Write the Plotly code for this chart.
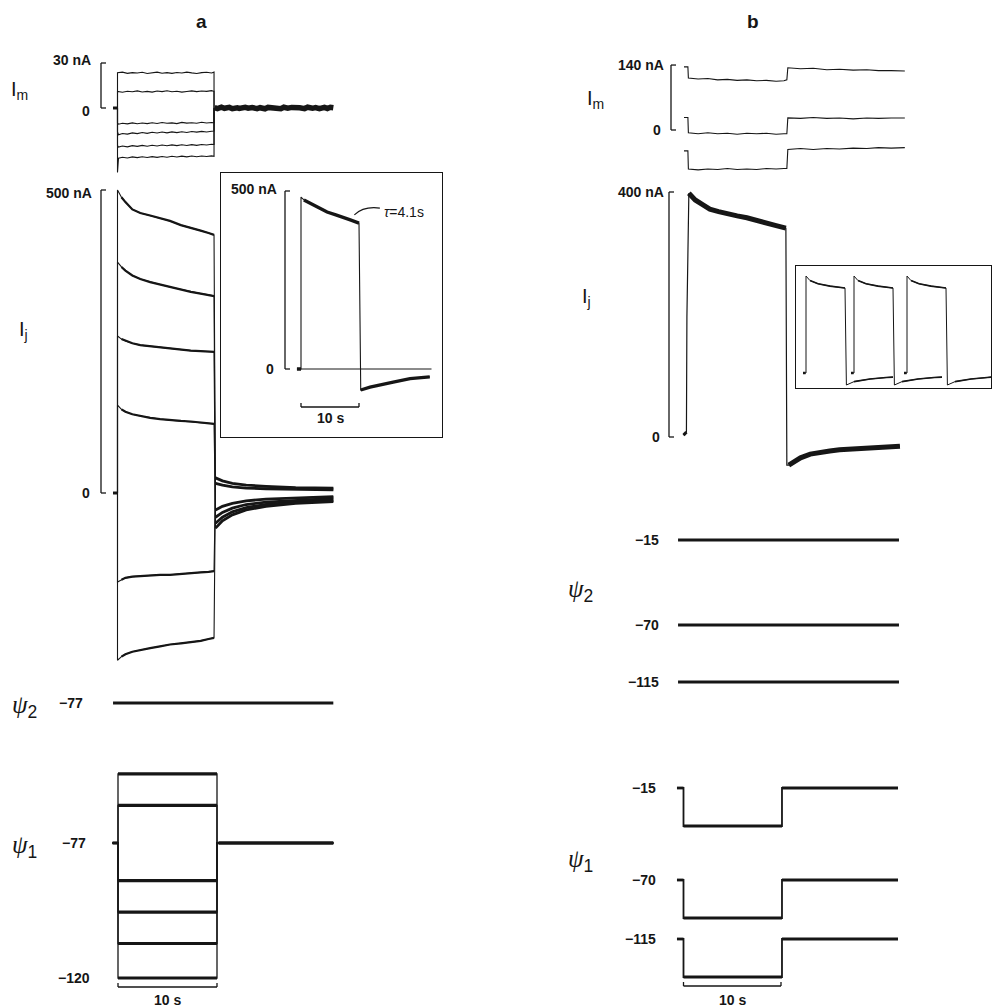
import plotly.graph_objects as go

W, H = 992, 1008
INK = "#161616"
FONT = "Liberation Sans"
SERIF = "Liberation Serif"

# ======================= PANEL a : data =======================
# I_m (nA) : six sweeps during a 10 s step of psi1
IM_A_PRE_T = [-0.45, 0.0]
IM_A_STEP_T = [0.1, 0.5, 1.0, 1.5, 2.0, 2.5, 3.0, 3.5, 4.0, 4.5, 5.0,
               5.5, 6.0, 6.5, 7.0, 7.5, 8.0, 8.5, 9.0, 9.5, 9.7]
IM_A_STEP_END = 9.75
IM_A_ONSET = [23.5, 11.0, -10.0, -16.0, -25.0, -43.0]
IM_A_STEP = [
    [23.5, 23.9, 23.1, 23.6, 23.3, 23.8, 23.0, 23.5, 23.9, 23.2, 23.6,
     23.1, 23.7, 23.3, 23.9, 23.4, 23.0, 23.6, 23.8, 23.3, 23.9],
    [11.0, 10.5, 11.2, 10.8, 11.4, 10.7, 11.1, 10.6, 11.3, 10.9, 11.5,
     10.8, 11.2, 10.6, 11.0, 11.4, 10.9, 11.3, 11.1, 11.6, 11.2],
    [-10.8, -10.2, -10.6, -9.9, -10.5, -10.0, -10.4, -9.8, -10.3, -9.7, -10.2,
     -9.9, -10.4, -9.6, -10.1, -9.8, -10.2, -9.5, -10.0, -9.7, -9.8],
    [-17.8, -17.0, -17.4, -16.6, -17.1, -16.3, -16.9, -16.2, -16.7, -16.0, -16.6,
     -15.9, -16.4, -15.8, -16.3, -15.7, -16.1, -15.6, -16.0, -15.5, -15.4],
    [-26.0, -25.3, -25.9, -25.1, -25.6, -24.9, -25.5, -24.8, -25.3, -24.7, -25.2,
     -24.6, -25.1, -24.5, -25.0, -24.4, -24.9, -24.3, -24.7, -24.2, -24.3],
    [-33.5, -32.8, -33.3, -32.6, -33.1, -32.5, -33.0, -32.4, -32.9, -32.3, -32.8,
     -32.2, -32.7, -32.1, -32.6, -32.0, -32.5, -32.0, -32.3, -31.9, -32.2],
]
IM_A_POST_T = [9.8, 10.1, 10.5, 10.8, 11.3, 11.6, 12.1, 12.3, 12.9, 13.2, 13.6, 14.1,
               14.4, 14.9, 15.2, 15.7, 15.9, 16.5, 16.8, 17.2, 17.6, 18.1, 18.4, 18.9,
               19.2, 19.7, 20.0, 20.4, 20.9, 21.2, 21.5, 21.8]
IM_A_POST = [0.3, -0.4, 0.5, -0.2, 0.4, -0.5, 0.1, -0.3, 0.5, -0.1, 0.3, -0.4,
             0.2, -0.5, 0.4, -0.2, 0.3, -0.5, 0.5, -0.1, 0.4, -0.3, 0.2, -0.4,
             0.5, -0.2, 0.3, -0.5, 0.4, -0.3, 0.5, 0.2]

# I_j (nA)
IJ_A_PRE_T = [-0.45, 0.0]
IJ_A_STEP_T = [0.0, 0.4, 0.8, 1.5, 2.3, 3.3, 4.3, 5.3, 6.4, 7.4, 8.4, 9.2, 9.75]
IJ_A_STEP = [
    [500, 488, 480, 468, 462, 458, 454, 449, 442, 438, 433, 429, 426],
    [381, 373, 367, 359, 353, 348, 344, 340, 336, 332, 329, 327, 325],
    [259, 254, 251, 247, 244, 242, 240, 238, 236, 235, 234, 233, 233],
    [145, 138, 134, 130, 127, 124, 122, 120, 119, 118, 116, 115, 114],
    [-147, -143, -140, -138, -137, -136, -135, -135, -134, -132, -131, -130, -129],
    [-276, -270, -266, -262, -259, -256, -253, -250, -248, -246, -244, -241, -239],
]
IJ_A_TAIL_T = [9.9, 10.6, 11.6, 13.0, 15.0, 18.0, 21.8]
IJ_A_TAIL = [
    [-58, -46, -36, -28, -22, -17, -14],
    [-50, -40, -31, -24, -19, -15, -12],
    [-40, -32, -25, -19, -15, -12, -9],
    [-28, -22, -17, -13, -10, -8, -6],
    [16, 13, 10, 8, 7, 6, 5],
    [25, 20, 16, 13, 11, 9, 8],
]

# inset of panel a (single sweep, nA)
INSET_A_PRE_T = [-0.7, 0.0]
INSET_A_T = [0.0, 0.5, 1.5, 3.0, 4.5, 6.0, 7.2, 8.5, 10.0]
INSET_A_I = [483, 475, 466, 452, 441, 433, 427, 419, 410]
INSET_A_TAIL_T = [10.3, 11.9, 15.9, 18.8, 22.2]
INSET_A_TAIL = [-59, -51, -37, -27, -22]
INSET_A_ZERO_T = [0.0, 22.5]
TAU_TEXT = "<i>τ</i>=4.1s"

# voltages (mV)
PSI2_A_T = [-0.45, 21.8]
PSI2_A = -77
PSI1_A_HOLD = -77
PSI1_A_LEVELS = [-55, -65, -89, -99, -109, -120]
PSI1_A_T = [-0.5, 0.05, 10.05, 21.8]   # start, step on, step off, end

# ======================= PANEL b : data =======================
IM_B_PRE_T = [0.05, 0.45]
IM_B_PRE = [136, 27, -45]
IM_B_STEP_T = [0.5, 1.5, 2.5, 3.5, 4.5, 5.5, 6.5, 7.5, 8.5, 9.5, 10.3, 10.6]
IM_B_STEP = [
    [112, 110, 111, 108, 109, 107, 108, 106, 107, 105, 106, 108],
    [-6, -8, -6, -8, -7, -9, -7, -8, -7, -9, -8, -8],
    [-84, -86, -84, -85, -83, -85, -84, -85, -83, -84, -83, -83],
]
IM_B_POST_T = [10.7, 12.0, 13.3, 14.7, 16.0, 17.4, 18.8, 20.0, 21.3, 22.7]
IM_B_POST = [
    [134, 132, 133, 130, 131, 129, 130, 128, 128, 127],
    [26, 25, 27, 25, 26, 24, 26, 25, 26, 26],
    [-42, -40, -42, -40, -41, -39, -40, -38, -39, -38],
]

IJ_B_RISE_T = [0.0, 0.3, 0.35, 0.55]
IJ_B_RISE = [3, 8, 196, 398]
IJ_B_STEP_T = [0.55, 1.2, 2.0, 2.7, 3.6, 4.5, 5.5, 6.5, 7.5, 8.5, 9.5, 10.5]
IJ_B_STEP = [398, 387, 379, 372, 368, 364, 361, 358, 353, 349, 345, 341]
IJ_B_TAIL_T = [10.6, 10.8, 12.0, 13.0, 13.9, 15.0, 16.0, 17.0, 18.0, 19.0, 20.0, 21.0, 22.2]
IJ_B_TAIL = [-46, -46, -34, -28, -25, -23, -21, -20, -18, -17, -16, -16, -15]

# inset of panel b: three successive pulses (nA)
INSET_B_START = [0.0, 12.0, 25.25]
INSET_B_PULSE_T = [0.0, 1.0, 3.0, 6.0, 9.75]
INSET_B_PULSE = [404, 385, 372, 362, 354]
INSET_B_TAIL_T = [10.1, 12.0, 16.0, 20.0]
INSET_B_TAIL = [-50, -36, -25, -19]
INSET_B_TAIL_END = [21.75, 22.0, 21.25]
INSET_B_TAIL_LAST = -17

PSI2_B_LEVELS = [-15, -70, -115]
PSI2_B_T = [-0.56, 22.1]
PSI1_B_HOLD = [-15, -70, -115]
PSI1_B_STEP = [-40, -95, -140]
PSI1_B_T = [-0.67, 0.0, 10.1, 22.0]

# ======================= layout geometry (pixels) =======================
A_X = (95, 345, 117.5, 9.9)       # left, right, px of t=0, px per s
B_X = (640, 992, 683.5, 9.75)
IA_X = (221, 442, 301, 5.8)
IB_X = (796, 991, 806, 4.0)

IM_A_Y = (50, 185, 0, 108, 1.5)   # top, bottom, ref value, ref px, px per unit
IJ_A_Y = (180, 680, 0, 493, 0.606)
PSI2_A_Y = (690, 716, -77, 703, 3.14)
PSI1_A_Y = (760, 992, -77, 843, 3.14)
IA_Y = (173, 437, 0, 369, 0.356)
IM_B_Y = (50, 180, 0, 130, 0.464)
IJ_B_Y = (185, 480, 0, 437, 0.6125)
PSI2_B_Y = [(526, 554, -15, 540, 1.52), (611, 639, -70, 625, 1.52), (668, 696, -115, 682, 1.52)]
PSI1_B_Y = [(775, 835, -15, 788, 1.52), (868, 928, -70, 880, 1.52), (926, 986, -115, 939, 1.52)]
IB_Y = (266, 388, 0, 373, 0.24)


def xax(spec, **kw):
    l, r, o, s = spec
    d = dict(domain=[l / W, r / W], range=[(l - o) / s, (r - o) / s],
             visible=False, fixedrange=True)
    d.update(kw)
    return d


def yax(spec, anchor, **kw):
    t, b, v, p, s = spec
    d = dict(domain=[1 - b / H, 1 - t / H], range=[v - (b - p) / s, v + (p - t) / s],
             visible=False, anchor=anchor, fixedrange=True)
    d.update(kw)
    return d


BOX = dict(visible=True, showline=True, mirror=True, linecolor=INK, linewidth=1.2,
           ticks="", showticklabels=False, showgrid=False, zeroline=False)

fig = go.Figure()


def line(x, y, xa, ya, w):
    fig.add_trace(go.Scatter(x=x, y=y, mode="lines", line=dict(color=INK, width=w),
                             xaxis=xa, yaxis=ya, hoverinfo="skip", showlegend=False))


# ---------------- panel a traces ----------------
for onset, vals in zip(IM_A_ONSET, IM_A_STEP):
    t = IM_A_PRE_T + [0.0] + IM_A_STEP_T + [IM_A_STEP_END, IM_A_STEP_END]
    y = [0, 0, onset] + vals + [vals[-1], 0]
    line(t, y, "x", "y", 1.1)
line(IM_A_POST_T, IM_A_POST, "x", "y", 5.5)
line(IM_A_PRE_T, [0, 0], "x", "y", 3)

for vals, tail in zip(IJ_A_STEP, IJ_A_TAIL):
    t = IJ_A_PRE_T + IJ_A_STEP_T + IJ_A_TAIL_T
    y = [0, 0] + vals + tail
    line(t, y, "x", "y2", 1.1)
    line(IJ_A_STEP_T[1:], vals[1:], "x", "y2", 2.2)
    line(IJ_A_TAIL_T, tail, "x", "y2", 2.8)
line(IJ_A_PRE_T, [0, 0], "x", "y2", 3)

line(PSI2_A_T, [PSI2_A, PSI2_A], "x", "y3", 3.2)

for lev in PSI1_A_LEVELS:
    t0, t1, t2, t3 = PSI1_A_T
    line([t0, t1, t1, t2, t2, t3], [PSI1_A_HOLD, PSI1_A_HOLD, lev, lev, PSI1_A_HOLD, PSI1_A_HOLD],
         "x", "y4", 1.3)
    line([t1, t2], [lev, lev], "x", "y4", 3.2)
line([PSI1_A_T[0], PSI1_A_T[1]], [PSI1_A_HOLD] * 2, "x", "y4", 3.2)
line([PSI1_A_T[2] + 0.15, PSI1_A_T[3]], [PSI1_A_HOLD] * 2, "x", "y4", 3.6)

# inset a
line(INSET_A_ZERO_T, [0, 0], "x2", "y5", 1.0)
line(INSET_A_PRE_T + INSET_A_T + INSET_A_TAIL_T, [0, 0] + INSET_A_I + INSET_A_TAIL, "x2", "y5", 1.1)
line(INSET_A_T[1:], INSET_A_I[1:], "x2", "y5", 3.4)
line(INSET_A_TAIL_T, INSET_A_TAIL, "x2", "y5", 3.2)
line(INSET_A_PRE_T, [0, 0], "x2", "y5", 3.5)

# ---------------- panel b traces ----------------
for pre, step, post in zip(IM_B_PRE, IM_B_STEP, IM_B_POST):
    t = IM_B_PRE_T + IM_B_STEP_T + IM_B_POST_T
    y = [pre, pre] + step + post
    line(t, y, "x3", "y6", 1.1)

line(IJ_B_RISE_T + IJ_B_STEP_T + IJ_B_TAIL_T, IJ_B_RISE + IJ_B_STEP + IJ_B_TAIL, "x3", "y7", 1.2)
line(IJ_B_STEP_T, IJ_B_STEP, "x3", "y7", 5)
line(IJ_B_TAIL_T[1:], IJ_B_TAIL[1:], "x3", "y7", 5)
line(IJ_B_RISE_T[:2], IJ_B_RISE[:2], "x3", "y7", 3)

for k, lev in enumerate(PSI2_B_LEVELS):
    line(PSI2_B_T, [lev, lev], "x3", "y%d" % (8 + k), 2.8)

for k, (hold, step) in enumerate(zip(PSI1_B_HOLD, PSI1_B_STEP)):
    t0, t1, t2, t3 = PSI1_B_T
    ya = "y%d" % (11 + k)
    line([t0, t1, t1, t2, t2, t3], [hold, hold, step, step, hold, hold], "x3", ya, 1.8)
    line([t1, t2], [step, step], "x3", ya, 2.8)
    line([t2, t3], [hold, hold], "x3", ya, 2.8)
    line([t0, t1], [hold, hold], "x3", ya, 2.8)

# inset b
for start, tend in zip(INSET_B_START, INSET_B_TAIL_END):
    tp = [start + v for v in INSET_B_PULSE_T]
    tt = [start + v for v in INSET_B_TAIL_T] + [start + tend]
    tail = INSET_B_TAIL + [INSET_B_TAIL_LAST]
    line([start - 0.75, start] + tp + tt, [0, 0] + INSET_B_PULSE + tail, "x4", "y14", 1.0)
    line(tp[1:], INSET_B_PULSE[1:], "x4", "y14", 1.6)
    line(tt[1:], tail[1:], "x4", "y14", 1.6)
    line([start - 0.75, start - 0.1], [0, 0], "x4", "y14", 2.5)

# ---------------- axes ----------------
lay = dict(
    xaxis=xax(A_X, anchor="y4"),
    xaxis2=xax(IA_X, anchor="y5", **BOX),
    xaxis3=xax(B_X, anchor="y7"),
    xaxis4=xax(IB_X, anchor="y14", **BOX),
    yaxis=yax(IM_A_Y, "x"),
    yaxis2=yax(IJ_A_Y, "x"),
    yaxis3=yax(PSI2_A_Y, "x"),
    yaxis4=yax(PSI1_A_Y, "x"),
    yaxis5=yax(IA_Y, "x2", **BOX),
    yaxis6=yax(IM_B_Y, "x3"),
    yaxis7=yax(IJ_B_Y, "x3"),
    yaxis14=yax(IB_Y, "x4", **BOX),
)
for k, spec in enumerate(PSI2_B_Y):
    lay["yaxis%d" % (8 + k)] = yax(spec, "x3")
for k, spec in enumerate(PSI1_B_Y):
    lay["yaxis%d" % (11 + k)] = yax(spec, "x3")

# ---------------- annotations ----------------
ann = []


def text(s, xpx, ypx=None, yref="paper", yval=None, size=13, xanchor="right",
         yshift=0, xref="paper", xval=None, family=FONT):
    ann.append(dict(
        text=s, showarrow=False, xanchor=xanchor, yanchor="middle",
        xref=xref, x=(xpx / W) if xref == "paper" else xval,
        yref=yref, y=(1 - ypx / H) if yref == "paper" else yval,
        yshift=yshift, font=dict(family=family, size=size, color=INK)))


text("<b>a</b>", 201, 21, size=19, xanchor="center")
text("<b>b</b>", 753, 21, size=19, xanchor="center")

PSI_FMT = "<i>ψ</i><sub><span style='font-family:Liberation Sans'>%d</span></sub>"

text("I<sub>m</sub>", 9, 90, size=20, xanchor="left")
text("I<sub>j</sub>", 17, 331, size=20, xanchor="left")
text(PSI_FMT % 2, 10, 706, size=25, xanchor="left", family=SERIF)
text(PSI_FMT % 1, 10, 846, size=25, xanchor="left", family=SERIF)

text("I<sub>m</sub>", 585, 100, size=20, xanchor="left")
text("I<sub>j</sub>", 580, 297, size=20, xanchor="left")
text(PSI_FMT % 2, 566, 590, size=25, xanchor="left", family=SERIF)
text(PSI_FMT % 1, 566, 860, size=25, xanchor="left", family=SERIF)

B = lambda s: "<b>%s</b>" % s
TS = 14
# panel a scale labels
text(B("30 nA"), 93, yref="y", yval=30, yshift=3, size=TS)
text(B("0"), 92, yref="y", yval=0, yshift=-3, size=TS)
text(B("500 nA"), 94, yref="y2", yval=500, yshift=-3, size=TS)
text(B("0"), 92, yref="y2", yval=0, size=TS)
text(B("−77"), 85, yref="y3", yval=PSI2_A, size=TS)
text(B("−77"), 88, yref="y4", yval=PSI1_A_HOLD, size=TS)
text(B("−120"), 92, yref="y4", yval=PSI1_A_LEVELS[-1], size=TS)
text(B("10 s"), 0, 1000, xref="x", xval=5.1, size=TS, xanchor="center")
# inset a labels
text(B("500 nA"), 279, yref="y5", yval=500, yshift=2, size=TS)
text(B("0"), 276, yref="y5", yval=0, size=TS)
text(B("10 s"), 0, 418, xref="x2", xval=5.0, size=TS, xanchor="center")
ann.append(dict(text=TAU_TEXT, showarrow=False, xanchor="left", yanchor="middle",
                xref="x2", x=14.0, yref="y5", y=441,
                font=dict(family=FONT, size=14, color=INK)))
# panel b labels
text(B("140 nA"), 666, yref="y6", yval=140, size=TS)
text(B("0"), 663, yref="y6", yval=0, size=TS)
text(B("400 nA"), 666, yref="y7", yval=400, size=TS)
text(B("0"), 662, yref="y7", yval=0, size=TS)
for k, lev in enumerate(PSI2_B_LEVELS):
    text(B("−%d" % -lev), 661, yref="y%d" % (8 + k), yval=lev, size=TS)
for k, lev in enumerate(PSI1_B_HOLD):
    text(B("−%d" % -lev), 658, yref="y%d" % (11 + k), yval=lev, size=TS)
text(B("10 s"), 0, 1000, xref="x3", xval=5.0, size=TS, xanchor="center")

# ---------------- shapes: scale bars ----------------
shapes = []


def seg(x0, x1, y0, y1, xref, yref, w=1.3):
    shapes.append(dict(type="line", x0=x0, x1=x1, y0=y0, y1=y1, xref=xref, yref=yref,
                       line=dict(color=INK, width=w)))


def vbar(xpx, yref, v0, v1, tick=5):
    seg(xpx / W, xpx / W, v0, v1, "paper", yref)
    seg(xpx / W, (xpx + tick) / W, v0, v0, "paper", yref)
    seg(xpx / W, (xpx + tick) / W, v1, v1, "paper", yref)


def tbar(xref, t0, t1, ypx, tick=4):
    y = 1 - ypx / H
    yt = 1 - (ypx - tick) / H
    seg(t0, t1, y, y, xref, "paper")
    seg(t0, t0, y, yt, xref, "paper")
    seg(t1, t1, y, yt, xref, "paper")


IM_A_BAR = [0, 30]
IJ_A_BAR = [0, 500]
IA_BAR = [0, 500]
IM_B_BAR = [0, 140]
IJ_B_BAR = [0, 400]
TIME_BAR = [0, 10]

vbar(101, "y", *IM_A_BAR)
vbar(101, "y2", *IJ_A_BAR)
vbar(285, "y5", *IA_BAR)
vbar(671, "y6", *IM_B_BAR)
vbar(669, "y7", *IJ_B_BAR)
tbar("x", 0.05, 0.05 + TIME_BAR[1], 987)
tbar("x2", 0.0, TIME_BAR[1], 407)
tbar("x3", 0.0, TIME_BAR[1], 986)

# tau pointer (curved line from trace to label)
shapes.append(dict(type="path", xref="x2", yref="y5",
                   path="M 9.2,433 Q 10.8,458 13.6,452",
                   line=dict(color=INK, width=1.1)))

fig.update_layout(
    width=W, height=H, margin=dict(l=0, r=0, t=0, b=0),
    paper_bgcolor="white", plot_bgcolor="rgba(0,0,0,0)",
    showlegend=False, annotations=ann, shapes=shapes,
    font=dict(family=FONT, color=INK), **lay)

fig.write_html("out.html", config={"displayModeBar": False},
               post_script="document.body.style.margin='0';document.body.style.overflow='hidden';")
